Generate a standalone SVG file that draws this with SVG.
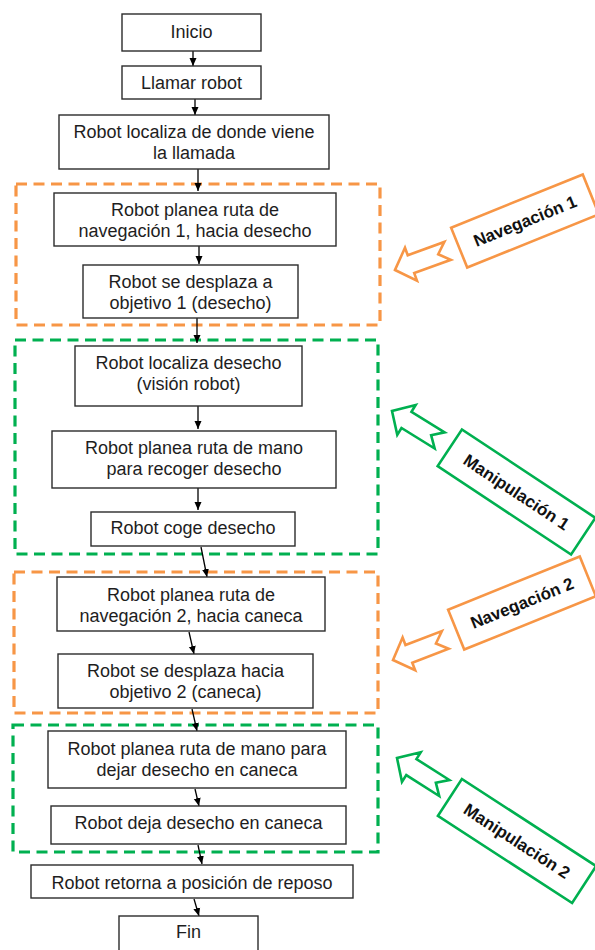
<svg xmlns="http://www.w3.org/2000/svg" width="595" height="950" viewBox="0 0 595 950">
<style>
.box{fill:#fff;stroke:#2b2b2b;stroke-width:1.4}
.t{font-family:"Liberation Sans",Arial,sans-serif;font-size:18px;fill:#1e1e1e;text-anchor:middle}
.ct{font-family:"Liberation Sans",Arial,sans-serif;font-size:17px;font-weight:bold;fill:#111;text-anchor:middle}
.dor{fill:none;stroke:#F79646;stroke-width:3.2;stroke-dasharray:11 6.5}
.dgr{fill:none;stroke:#00B050;stroke-width:3.2;stroke-dasharray:11 6.5}
.cor{fill:#fff;stroke:#F79646;stroke-width:2.6}
.cgr{fill:#fff;stroke:#00B050;stroke-width:2.6}
.con{stroke:#000;stroke-width:1.3;fill:none;marker-end:url(#ah)}
</style>
<defs>
<marker id="ah" markerUnits="userSpaceOnUse" markerWidth="8" markerHeight="8" viewBox="0 0 8 8" refX="8" refY="4" orient="auto">
<path d="M0,0.5 L8,4 L0,7.5 Z" fill="#000"/>
</marker>
<path id="blk" d="M0,0 L-17,-17.5 L-17,-9.5 L-56,-9.5 L-46,0 L-56,9.5 L-17,9.5 L-17,17.5 Z"/>
</defs>
<rect width="595" height="950" fill="#fff"/>

<g id="groups">
<rect class="dor" x="16" y="184" width="364" height="141"/>
<rect class="dgr" x="15" y="340" width="363" height="214"/>
<rect class="dor" x="14" y="572" width="364" height="141"/>
<rect class="dgr" x="13" y="725" width="365" height="127"/>
</g>

<g id="connectors">
<line class="con" x1="193" y1="51" x2="193" y2="66"/>
<line class="con" x1="195" y1="99" x2="195" y2="115"/>
<line class="con" x1="198" y1="169" x2="198" y2="191"/>
<line class="con" x1="199" y1="246" x2="199" y2="264"/>
<line class="con" x1="197" y1="318" x2="197" y2="343"/>
<line class="con" x1="198" y1="406" x2="198" y2="429"/>
<line class="con" x1="198" y1="488" x2="198" y2="510"/>
<line class="con" x1="201" y1="547" x2="207" y2="577"/>
<line class="con" x1="189" y1="632" x2="194" y2="654"/>
<line class="con" x1="192" y1="709" x2="197" y2="731"/>
<line class="con" x1="195" y1="789" x2="199" y2="806"/>
<line class="con" x1="198" y1="845" x2="202" y2="864"/>
<line class="con" x1="194" y1="899" x2="199" y2="916"/>
</g>

<g id="n1"><rect class="box" x="122" y="14" width="139" height="37"/><text class="t" x="191.5" y="38">Inicio</text></g>
<g id="n2"><rect class="box" x="122" y="66" width="139" height="33"/><text class="t" x="191.5" y="89">Llamar robot</text></g>
<g id="n3"><rect class="box" x="59" y="115" width="270" height="54"/><text class="t" x="194" y="138">Robot localiza de donde viene</text><text class="t" x="194" y="159">la llamada</text></g>
<g id="n4"><rect class="box" x="54" y="193" width="282" height="53"/><text class="t" x="195" y="216">Robot planea ruta de</text><text class="t" x="195" y="237">navegación 1, hacia desecho</text></g>
<g id="n5"><rect class="box" x="83" y="265" width="215" height="53"/><text class="t" x="190.5" y="287.5">Robot se desplaza a</text><text class="t" x="190.5" y="308.5">objetivo 1 (desecho)</text></g>
<g id="n6"><rect class="box" x="75" y="346" width="227" height="60"/><text class="t" x="188.5" y="368.5">Robot localiza desecho</text><text class="t" x="188.5" y="389.5">(visión robot)</text></g>
<g id="n7"><rect class="box" x="52" y="431" width="284" height="57"/><text class="t" x="194" y="453.5">Robot planea ruta de mano</text><text class="t" x="194" y="474.5">para recoger desecho</text></g>
<g id="n8"><rect class="box" x="91" y="512" width="204" height="34"/><text class="t" x="193" y="534">Robot coge desecho</text></g>
<g id="n9"><rect class="box" x="57" y="577" width="268" height="54"/><text class="t" x="191" y="601">Robot planea ruta de</text><text class="t" x="191" y="622">navegación 2, hacia caneca</text></g>
<g id="n10"><rect class="box" x="58" y="654" width="255" height="54"/><text class="t" x="185.5" y="677">Robot se desplaza hacia</text><text class="t" x="185.5" y="698">objetivo 2 (caneca)</text></g>
<g id="n11"><rect class="box" x="48" y="731" width="298" height="57"/><text class="t" x="197" y="754.5">Robot planea ruta de mano para</text><text class="t" x="197" y="775.5">dejar desecho en caneca</text></g>
<g id="n12"><rect class="box" x="51" y="806" width="295" height="38"/><text class="t" x="198.5" y="828.5">Robot deja desecho en caneca</text></g>
<g id="n13"><rect class="box" x="31" y="865" width="322" height="33"/><text class="t" x="192" y="889">Robot retorna a posición de reposo</text></g>
<g id="n14"><rect class="box" x="119" y="916" width="139" height="40"/><text class="t" x="188.5" y="938">Fin</text></g>

<g id="nav1">
<use href="#blk" class="cor" transform="translate(395,270) rotate(160)"/>
<g transform="translate(525,221) rotate(-22)"><rect class="cor" x="-71" y="-21.5" width="142" height="43"/><text class="ct" x="0" y="6">Navegación 1</text></g>
</g>
<g id="manip1">
<use href="#blk" class="cgr" transform="translate(392,411) rotate(211.7)"/>
<g transform="translate(516.5,492) rotate(33.5)"><rect class="cgr" x="-80" y="-22" width="160" height="44"/><text class="ct" x="0" y="6">Manipulación 1</text></g>
</g>
<g id="nav2">
<use href="#blk" class="cor" transform="translate(393,660) rotate(159)"/>
<g transform="translate(522,603) rotate(-22)"><rect class="cor" x="-71" y="-21.5" width="142" height="43"/><text class="ct" x="0" y="6">Navegación 2</text></g>
</g>
<g id="manip2">
<use href="#blk" class="cgr" transform="translate(397,758) rotate(212.4)"/>
<g transform="translate(517,841) rotate(33)"><rect class="cgr" x="-80" y="-22" width="160" height="44"/><text class="ct" x="0" y="6">Manipulación 2</text></g>
</g>
</svg>
